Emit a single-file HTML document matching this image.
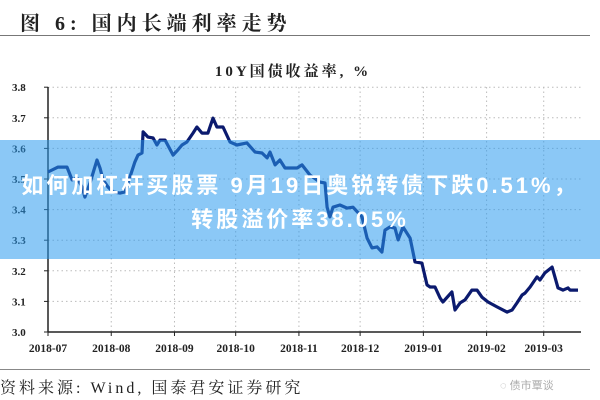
<!DOCTYPE html>
<html><head><meta charset="utf-8"><style>
body{margin:0;background:#fff;}
#wrap{position:relative;width:600px;height:400px;overflow:hidden;background:#fff;font-family:"Liberation Serif","Noto Serif CJK SC",serif;}
.t{position:absolute;white-space:nowrap;}
</style></head><body>
<div id="wrap">
<div class="t" style="left:20px;top:7px;font-size:20px;font-weight:bold;color:#222;letter-spacing:5px;">图 6: 国内长端利率走势</div>
<div style="position:absolute;left:0;top:35px;width:590px;height:1px;background:#777;"></div>
<svg id="chart" width="600" height="400" style="position:absolute;left:0;top:0;"></svg>
<div style="position:absolute;left:0;top:140px;width:600px;height:119px;background:rgba(40,153,238,0.54);"></div>
<div class="t" style="left:0;width:600px;top:168px;text-align:center;font-family:'Liberation Sans','Noto Sans CJK SC',sans-serif;font-weight:bold;font-size:22px;letter-spacing:3px;color:#fff;">如何加杠杆买股票 9月19日奥锐转债下跌0.51%，</div>
<div class="t" style="left:0;width:600px;top:202px;text-align:center;font-family:'Liberation Sans','Noto Sans CJK SC',sans-serif;font-weight:bold;font-size:22px;letter-spacing:3px;color:#fff;">转股溢价率38.05%</div>
<div style="position:absolute;left:0;top:369px;width:590px;height:1px;background:#888;"></div>
<div class="t" style="left:0;top:375px;font-size:16px;color:#222;letter-spacing:3px;">资料来源:  Wind,  国泰君安证券研究</div>
<div class="t" style="left:500px;top:377px;font-family:'Liberation Sans','Noto Sans CJK SC',sans-serif;font-size:11px;color:#aaa;">◌ 债市覃谈</div>
</div>
<script>
const days=[0,4.9,9.3,11.8,14.2,16.7,18.1,20.6,24,25.5,27,29.4,31.9,35.3,37.7,40.2,42.6,44.1,46.1,46.6,49,51.5,53.4,54.9,57.4,61.3,63.7,65.7,68.1,71.1,73,75.5,78.4,80.9,82.8,85.8,89.2,92.6,97.5,101.5,104.9,107.4,108.8,111.3,113.7,116.2,122.1,124.5,128.4,133.3,135.8,136.8,138.2,139.7,143.1,146.6,149.5,153.9,156.4,158.8,161.3,163.7,165.2,167.6,170.1,171.6,174,177.5,179.9,183.3,185.8,187.3,189.7,192.2,193.6,198,199.5,202,204.4,207.8,210.3,212.7,215.7,220.1,225,227.5,229.9,232.4,233.8,236.3,239.7,241.2,243.6,247.1,248.5,250,252.5,254.9,255.9,259.8];
const yields=[3.523,3.539,3.539,3.497,3.503,3.474,3.441,3.487,3.562,3.536,3.497,3.474,3.458,3.454,3.458,3.507,3.556,3.578,3.585,3.654,3.637,3.634,3.611,3.627,3.627,3.578,3.595,3.611,3.621,3.650,3.670,3.650,3.650,3.699,3.670,3.670,3.621,3.611,3.618,3.588,3.585,3.569,3.588,3.546,3.562,3.536,3.536,3.546,3.513,3.490,3.487,3.408,3.376,3.408,3.415,3.405,3.408,3.376,3.307,3.275,3.278,3.261,3.333,3.343,3.340,3.301,3.343,3.307,3.229,3.225,3.154,3.147,3.147,3.111,3.098,3.131,3.072,3.095,3.105,3.137,3.137,3.114,3.098,3.082,3.065,3.072,3.095,3.121,3.127,3.147,3.180,3.170,3.193,3.212,3.180,3.144,3.137,3.144,3.137,3.137];
const monthLabels=["2018-07","2018-08","2018-09","2018-10","2018-11","2018-12","2019-01","2019-02","2019-03"];
const monthDays=[0,31,62,92,123,153,184,215,243];
const yTicks=[3.0,3.1,3.2,3.3,3.4,3.5,3.6,3.7,3.8];
const NS="http://www.w3.org/2000/svg";
const svg=document.getElementById('chart');
const X=d=>48+d*2.04;
const Y=v=>332-(v-3)*306;
function mk(t,a){const e=document.createElementNS(NS,t);for(const k in a)e.setAttribute(k,a[k]);svg.appendChild(e);return e;}
const ft='"Liberation Serif","Noto Serif CJK SC",serif';
let tt=mk('text',{x:293,y:76,'text-anchor':'middle','font-size':15,'font-weight':'bold','font-family':ft,fill:'#222','letter-spacing':3});
tt.textContent='10Y国债收益率, %';


yTicks.forEach(v=>{
  if(v>3){let g=mk('line',{x1:48,x2:582,y1:Y(v),y2:Y(v),stroke:'#bbb','stroke-dasharray':'1.5,3'});
  
  }
  let tk=mk('line',{x1:44,x2:48,y1:Y(v),y2:Y(v),stroke:'#222'});
  
  
  let l=mk('text',{x:12,y:Y(v)+4,'font-size':11,'font-weight':'bold','font-family':ft,fill:'#222'});
  l.textContent=v.toFixed(1);
  
  
});
monthDays.forEach((d,i)=>{
  if(d>0){let g=mk('line',{x1:X(d),x2:X(d),y1:87,y2:332,stroke:'#bbb','stroke-dasharray':'1.5,3'});
  
  }
  let tk=mk('line',{x1:X(d),x2:X(d),y1:332,y2:336,stroke:'#222'});
  
  
  let l=mk('text',{x:X(d),y:352,'text-anchor':'middle','font-size':11.5,'font-weight':'bold','font-family':ft,fill:'#222'});
  l.textContent=monthLabels[i];
  
  
});
let ya=mk('line',{x1:48,x2:48,y1:87,y2:332,stroke:'#222','stroke-width':1.5});


let xa=mk('line',{x1:48,x2:581,y1:332,y2:332,stroke:'#222','stroke-width':1.5});


let pts=days.map((d,i)=>X(d).toFixed(1)+','+Y(yields[i]).toFixed(1)).join(' ');
let pl=mk('polyline',{points:pts,fill:'none',stroke:'#0b1a6e','stroke-width':3.2,'stroke-linejoin':'round'});


</script>
</body></html>
